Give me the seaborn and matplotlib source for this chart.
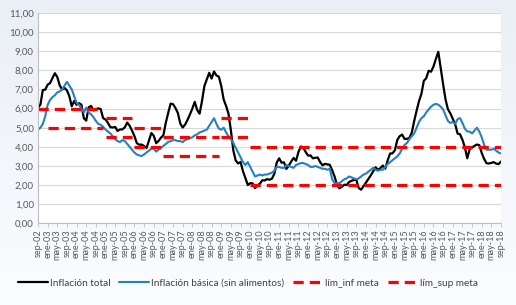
import numpy as np
import pandas as pd
import matplotlib
matplotlib.use("Agg")
import matplotlib.pyplot as plt
import seaborn as sns

# ---------------- data (monthly, sep-02 .. sep-18) ----------------
tick_labels = [
    "sep-02",
    "ene-03", "may-03", "sep-03", "ene-04", "may-04", "sep-04",
    "ene-05", "may-05", "sep-05", "ene-06", "may-06", "sep-06",
    "ene-07", "may-07", "sep-07", "ene-08", "may-08", "sep-08",
    "ene-09", "may-09", "sep-09", "ene-10", "may-10", "sep-10",
    "ene-11", "may-11", "sep-11", "ene-12", "may-12", "sep-12",
    "ene-13", "may-13", "sep-13", "ene-14", "may-14", "sep-14",
    "ene-15", "may-15", "sep-15", "ene-16", "may-16", "sep-16",
    "ene-17", "may-17", "sep-17", "ene-18", "may-18", "sep-18",
]

inflacion_total = [
    6.04, 6.21, 6.97, 6.99,
    7.25, 7.33, 7.60, 7.85, 7.65, 7.21, 7.00, 7.08, 6.95, 6.65, 6.12, 6.40,
    6.20, 6.28, 6.21, 5.50, 5.37, 6.06, 6.14, 5.90, 5.97, 6.01, 5.97, 5.50,
    5.43, 5.25, 5.03, 5.01, 5.04, 4.83, 4.91, 4.91, 5.02, 5.27, 5.10, 4.85,
    4.56, 4.19, 4.11, 4.12, 4.04, 3.94, 4.32, 4.72, 4.58, 4.19, 4.31, 4.48,
    4.61, 5.26, 5.78, 6.26, 6.23, 6.03, 5.77, 5.22, 5.01, 5.16, 5.41, 5.69,
    6.00, 6.35, 5.93, 5.73, 6.39, 7.18, 7.52, 7.87, 7.57, 7.94, 7.73, 7.67,
    7.18, 6.47, 6.14, 5.73, 4.85, 3.81, 3.28, 3.13, 3.21, 2.72, 2.37, 2.00,
    2.10, 2.09, 1.84, 1.98, 2.07, 2.25, 2.24, 2.31, 2.28, 2.33, 2.59, 3.17,
    3.40, 3.17, 3.19, 2.84, 3.02, 3.23, 3.42, 3.27, 3.73, 4.02, 3.96, 3.73,
    3.54, 3.55, 3.40, 3.43, 3.44, 3.20, 3.03, 3.11, 3.08, 3.06, 2.77, 2.44,
    2.00, 1.83, 1.91, 2.02, 2.00, 2.16, 2.22, 2.27, 2.27, 1.84, 1.76, 1.94,
    2.13, 2.32, 2.51, 2.72, 2.93, 2.79, 2.89, 3.02, 2.86, 3.29, 3.65, 3.66,
    3.82, 4.36, 4.56, 4.64, 4.41, 4.42, 4.46, 4.74, 5.35, 5.89, 6.39, 6.77,
    7.45, 7.59, 7.98, 7.93, 8.20, 8.60, 8.97, 8.10, 7.27, 6.48, 5.96, 5.75,
    5.47, 5.18, 4.69, 4.66, 4.37, 3.99, 3.40, 3.87, 3.97, 4.05, 4.12, 4.09,
    3.68, 3.37, 3.14, 3.13, 3.16, 3.20, 3.12, 3.10, 3.23,
]

inflacion_basica = [
    4.90, 5.00, 5.20, 5.60,
    6.20, 6.45, 6.60, 6.70, 6.85, 6.90, 7.00, 7.20, 7.40, 7.20, 7.00, 6.65,
    6.30, 6.20, 6.00, 5.80, 6.05, 5.80, 5.70, 5.55, 5.35, 5.20, 5.15, 5.05,
    4.90, 4.80, 4.70, 4.55, 4.40, 4.30, 4.25, 4.35, 4.30, 4.15, 4.00, 3.85,
    3.70, 3.60, 3.55, 3.52, 3.60, 3.70, 3.80, 3.90, 3.90, 3.75, 3.85, 3.95,
    4.05, 4.15, 4.25, 4.30, 4.35, 4.35, 4.30, 4.30, 4.25, 4.35, 4.40, 4.45,
    4.50, 4.60, 4.65, 4.75, 4.80, 4.85, 4.90, 5.10, 5.30, 5.50, 5.20, 4.95,
    4.90, 5.00, 4.75, 4.55, 4.40, 4.20, 3.95, 3.70, 3.45, 3.20, 3.05, 3.20,
    2.95, 2.70, 2.45, 2.50, 2.55, 2.50, 2.55, 2.55, 2.60, 2.65, 2.75, 2.95,
    2.95, 2.90, 2.90, 3.05, 3.00, 2.95, 2.90, 3.05, 3.10, 3.15, 3.15, 3.10,
    3.05, 2.95, 2.95, 3.00, 2.95, 2.90, 2.85, 2.85, 2.80, 2.85, 2.30, 2.10,
    2.10, 2.10, 2.20, 2.30, 2.35, 2.45, 2.40, 2.35, 2.30, 2.35, 2.45, 2.55,
    2.60, 2.70, 2.80, 2.90, 2.80, 2.75, 2.80, 2.80, 2.95, 3.10, 3.20, 3.30,
    3.40, 3.50, 3.65, 3.90, 4.10, 4.20, 4.40, 4.55, 4.70, 5.00, 5.30, 5.50,
    5.60, 5.80, 5.95, 6.10, 6.20, 6.25, 6.20, 6.10, 5.95, 5.65, 5.35, 5.25,
    5.30, 5.20, 5.45, 5.50, 5.25, 4.95, 4.80, 4.80, 4.70, 4.85, 5.00, 4.80,
    4.50, 4.10, 3.85, 3.85, 3.85, 3.90, 3.80, 3.70, 3.65,
]

meta_years = [2002, 2003, 2004, 2005, 2006, 2007, 2008, 2009, 2010,
              2011, 2012, 2013, 2014, 2015, 2016, 2017, 2018]
lim_inf_meta = [6.0, 5.0, 5.0, 4.5, 4.0, 3.5, 3.5, 4.5, 2.0,
                2.0, 2.0, 2.0, 2.0, 2.0, 2.0, 2.0, 2.0]
lim_sup_meta = [6.0, 6.0, 6.0, 5.5, 5.0, 4.5, 4.5, 5.5, 4.0,
                4.0, 4.0, 4.0, 4.0, 4.0, 4.0, 4.0, 4.0]

series_names = ["Inflación total", "Inflación básica (sin alimentos)",
                "lím_inf meta", "lím_sup meta"]

# ---------------- long-form table ----------------
n = len(inflacion_total)
idx = np.arange(n)
year_of = 2002 + (idx + 8) // 12
inf_map = dict(zip(meta_years, lim_inf_meta))
sup_map = dict(zip(meta_years, lim_sup_meta))

frames = []
frames.append(pd.DataFrame({"x": idx, "v": inflacion_total,
                            "serie": series_names[0], "seg": "t"}))
frames.append(pd.DataFrame({"x": idx, "v": inflacion_basica,
                            "serie": series_names[1], "seg": "b"}))
for name, mp, tag in [(series_names[2], inf_map, "i"), (series_names[3], sup_map, "s")]:
    vals = np.array([mp[y] for y in year_of])
    seg = np.concatenate([[0], np.cumsum(np.diff(vals) != 0)])
    frames.append(pd.DataFrame({"x": idx, "v": vals, "serie": name,
                                "seg": [f"{tag}{s}" for s in seg]}))
df = pd.concat(frames, ignore_index=True)

# ---------------- figure ----------------
sns.set_theme(style="white")
plt.rcParams["font.family"] = ["Lato", "DejaVu Sans"]

fig = plt.figure(figsize=(5.16, 3.05), dpi=100)
# background gradient
bg = fig.add_axes([0, 0, 1, 1], zorder=-10)
grad = np.linspace(0, 1, 256).reshape(-1, 1)
top = np.array([0.918, 0.937, 0.965])
bot = np.array([0.985, 0.99, 1.0])
img = top[None, None, :] * (1 - grad[:, :, None]) + bot[None, None, :] * grad[:, :, None]
bg.imshow(img, aspect="auto", extent=[0, 1, 0, 1])
bg.set_axis_off()

ax = fig.add_axes([38 / 516, (305 - 223.3) / 305, (501 - 38) / 516, 210.3 / 305])
ax.set_facecolor("white")

palette = {series_names[0]: "#000000", series_names[1]: "#2480C4",
           series_names[2]: "#FF0000", series_names[3]: "#FF0000"}
sizes = {series_names[0]: 1.6, series_names[1]: 1.5,
         series_names[2]: 2.3, series_names[3]: 2.3}
dashes = {series_names[0]: "", series_names[1]: "",
          series_names[2]: (3.2, 1.9), series_names[3]: (3.2, 1.9)}

sns.lineplot(data=df, x="x", y="v", hue="serie", style="serie", size="serie",
             units="seg", estimator=None, palette=palette, sizes=sizes,
             dashes=dashes, hue_order=series_names, style_order=series_names,
             size_order=series_names, ax=ax, legend=True)

ax.set_xlim(0, n - 1)
ax.set_ylim(0, 11)
ax.set_yticks(range(0, 12))
ax.set_yticklabels([f"{v:.2f}".replace(".", ",") for v in range(0, 12)],
                   fontsize=7, color="#595959")
ax.set_xticks(np.arange(0, n, 4))
ax.set_xticklabels(tick_labels, rotation=90, fontsize=6.6, color="#595959")
ax.tick_params(axis="x", length=3, width=0.6, color="#BFBFBF", pad=1.5, bottom=True)
ax.tick_params(axis="y", length=0, pad=3)
ax.yaxis.grid(True, color="#D9D9D9", linewidth=0.8)
ax.set_axisbelow(True)
ax.set_xlabel("")
ax.set_ylabel("")
for s in ["top", "right"]:
    ax.spines[s].set_visible(False)
for s in ["left", "bottom"]:
    ax.spines[s].set_color("#BFBFBF")
    ax.spines[s].set_linewidth(0.8)

sns.move_legend(ax, "center", bbox_to_anchor=((248 - 38) / 463, (223.3 - 283) / 210.3),
                ncol=4, frameon=False, title=None, fontsize=7.2,
                handlelength=3.0, columnspacing=0.9, handletextpad=0.2)
for t in ax.get_legend().get_texts():
    t.set_color("#404040")

fig.savefig("out.png", dpi=100)
